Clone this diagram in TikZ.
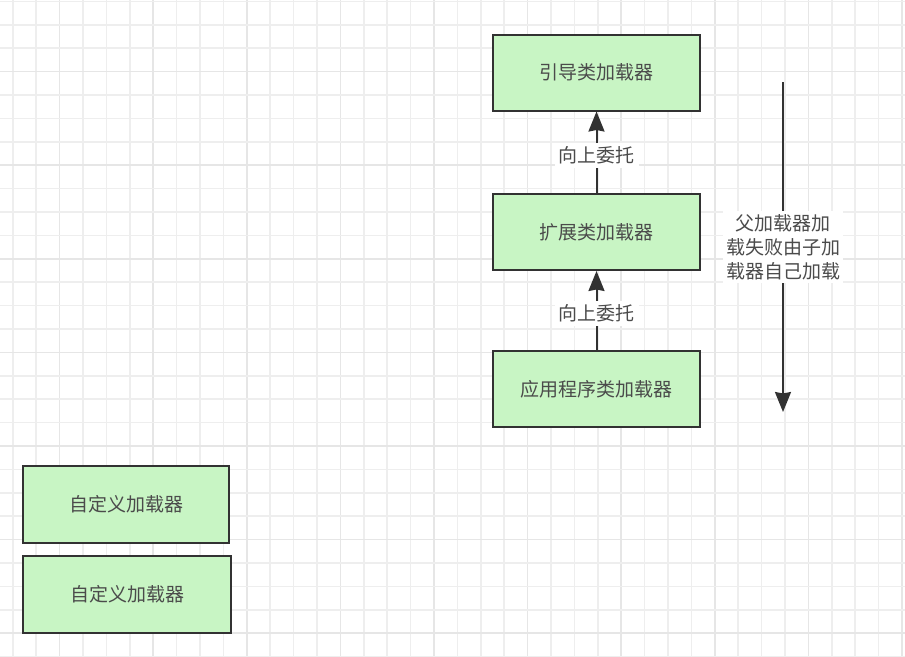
\documentclass[tikz,border=0pt]{standalone}
\usepackage{fontspec}
\setmainfont{Noto Sans CJK SC}
\usepackage{tikz}
\usetikzlibrary{arrows.meta}

\definecolor{boxgreen}{RGB}{200,245,196}
\definecolor{boxline}{RGB}{50,50,50}
\definecolor{txtgray}{RGB}{75,75,75}
\definecolor{gridminor}{RGB}{238,238,238}
\definecolor{gridmajor}{RGB}{230,230,230}

\begin{document}
\begin{tikzpicture}[x=1pt, y=-1pt,
		loader/.style={draw=boxline, line width=2pt, fill=boxgreen, text=txtgray,
			minimum width=207pt, minimum height=76pt, inner sep=0pt,
			font=\fontsize{19pt}{24pt}\selectfont},
		lab/.style={fill=white, text=txtgray, inner sep=4pt,
			font=\fontsize{19pt}{24pt}\selectfont},
		delegate/.style={draw=boxline, line width=2pt,
			-{Stealth[length=20pt, width=16pt, inset=1.5pt]}}]
		%%% Bounding box
		\useasboundingbox (0,0) rectangle (905,656);
		\fill[white] (0,0) rectangle (905,656);
		
		%%% Grid
		\foreach \i in {0,...,38}
		{\pgfmathtruncatemacro{\m}{mod(\i,4)}
			\ifnum\m=2 \def\gc{gridmajor}\else \def\gc{gridminor}\fi
			\draw[\gc, line width=1.6pt] (12.7+\i*23.4,0) -- (12.7+\i*23.4,656);}
		\foreach \j in {0,...,28}
		{\pgfmathtruncatemacro{\m}{mod(\j,4)}
			\ifnum\m=3 \def\gc{gridmajor}\else \def\gc{gridminor}\fi
			\draw[\gc, line width=1.6pt] (0,1.3+\j*23.4) -- (905,1.3+\j*23.4);}
		
		%%% Loaders
		\node[loader] (boot) at (596.5,72.5) {引导类加载器};
		\node[loader] (ext) at (596.5,232) {扩展类加载器};
		\node[loader] (app) at (596.5,389) {应用程序类加载器};
		\node[loader, minimum width=206pt, minimum height=77pt] (custA) at (126,504.5) {自定义加载器};
		\node[loader, minimum width=208pt, minimum height=77pt] (custB) at (127,594.5) {自定义加载器};
		
		%%% Delegation upwards
		\draw[delegate] (app.north) -- (ext.south) node[lab, pos=.46] (upB) {向上委托};
		\draw[delegate] (ext.north) -- (boot.south) node[lab, pos=.46] (upA) {向上委托};
		
		%%% Loading back down
		\coordinate (fail top) at (783,82);
		\coordinate (fail bot) at (783,412);
		\draw[delegate] (fail top) -- (fail bot)
		node[lab, midway, align=center, inner sep=3pt] (fail) {父加载器加\\载失败由子加\\载器自己加载};
	\end{tikzpicture}
\end{document}
